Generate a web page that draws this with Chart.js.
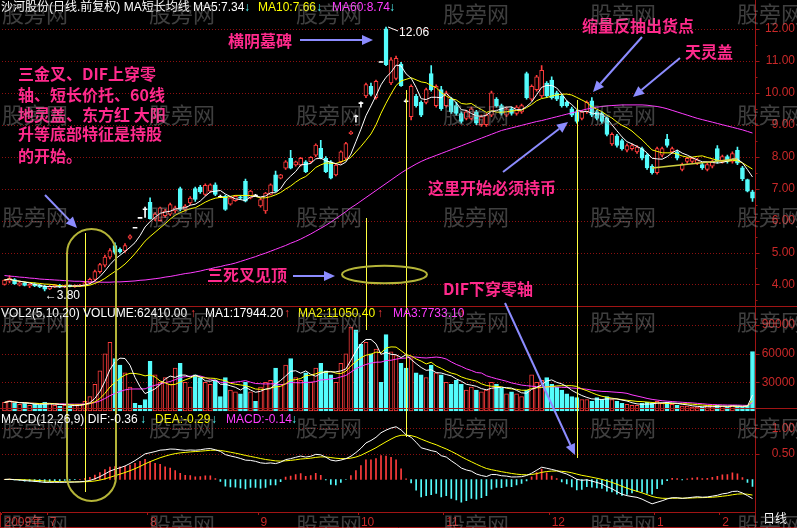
<!DOCTYPE html>
<html><head><meta charset="utf-8">
<script src="https://cdn.jsdelivr.net/npm/chart.js@4/dist/chart.umd.min.js"></script>
<style>html,body{margin:0;padding:0;background:#000;}canvas{display:block;}</style>
</head><body>
<canvas id="c" width="797" height="528"></canvas>
<script>
// ---- data: [open, high, low, close] per trading day ----
const ohlc = [
[4.00,4.15,3.98,4.14],[4.10,4.28,4.05,4.20],[4.15,4.18,4.00,4.02],[3.98,4.10,3.95,4.05],[4.05,4.08,3.95,3.97],
[3.95,4.02,3.90,4.00],[4.02,4.05,3.93,3.95],[3.98,4.00,3.90,3.92],[3.95,3.97,3.80,3.85],[3.86,3.98,3.84,3.95],
[3.92,4.00,3.90,3.97],[3.98,4.00,3.90,3.93],[3.92,3.98,3.90,3.96],[3.97,3.99,3.92,3.94],[3.93,3.99,3.91,3.97],
[3.95,4.00,3.93,3.98],[3.98,4.08,3.96,4.06],[4.05,4.20,4.02,4.16],[4.16,4.45,4.12,4.40],[4.40,4.66,4.35,4.62],
[4.60,4.92,4.55,4.86],[4.85,5.12,4.80,5.06],[5.22,5.30,4.95,5.00],[5.10,5.15,4.98,5.02],[5.05,5.28,5.00,5.22],
[5.45,5.55,5.42,5.52],[5.79,5.79,5.79,5.79],[6.10,6.10,6.10,6.10],[6.37,6.42,6.10,6.37],[6.57,6.71,6.04,6.06],
[6.05,6.25,6.00,6.20],[6.00,6.42,5.98,6.40],[6.15,6.35,6.10,6.30],[6.20,6.55,6.15,6.50],[6.30,6.45,6.25,6.40],
[7.00,7.05,6.30,6.35],[6.35,6.50,6.30,6.45],[6.55,6.75,6.50,6.70],[7.00,7.05,6.60,6.66],[7.05,7.10,6.85,6.90],
[6.82,7.15,6.78,7.10],[6.92,7.15,6.88,7.12],[7.12,7.18,6.78,6.82],[6.76,6.80,6.72,6.76],[6.76,6.80,6.32,6.35],
[6.51,6.75,6.48,6.71],[6.62,6.78,6.60,6.76],[6.74,6.78,6.66,6.70],[7.23,7.30,6.58,6.61],[6.71,6.95,6.68,6.92],
[6.80,6.82,6.78,6.80],[6.46,6.70,6.42,6.66],[6.30,6.88,6.22,6.86],[6.82,7.15,6.80,7.12],[7.43,7.55,6.90,6.92],
[7.33,7.45,7.30,7.43],[7.64,7.88,7.60,7.84],[7.95,8.20,7.62,7.64],[7.74,7.86,7.70,7.84],[7.74,7.98,7.70,7.95],
[7.84,7.88,7.50,7.53],[7.84,8.00,7.80,7.98],[8.05,8.40,8.00,8.36],[8.26,8.51,7.93,7.95],[7.95,8.00,7.50,7.53],
[7.84,7.88,7.30,7.33],[7.43,7.78,7.40,7.74],[7.84,8.18,7.80,8.15],[7.95,8.45,7.90,8.41],[8.72,8.80,8.70,8.77],
[9.28,9.30,9.08,9.28],[9.69,9.72,9.55,9.69],[9.90,10.30,9.85,10.26],[10.20,10.30,9.90,9.95],[9.85,10.40,9.80,10.36],
[10.98,10.98,10.98,10.98],[12.00,12.06,10.85,10.88],[10.31,11.10,10.25,11.03],[10.45,11.15,10.40,11.08],[10.90,10.95,10.20,10.22],
[9.75,9.80,9.70,9.75],[9.25,10.25,9.15,10.20],[9.90,9.95,9.55,9.60],[9.70,9.75,9.25,9.30],[9.70,10.15,9.65,10.10],
[10.60,10.85,10.05,10.10],[9.60,10.25,9.55,10.20],[10.10,10.20,9.45,9.50],[9.60,10.05,9.55,10.00],[9.80,9.85,9.35,9.40],
[9.60,9.70,9.30,9.35],[9.35,9.40,9.05,9.10],[9.20,9.45,9.15,9.40],[9.20,9.55,9.15,9.50],[9.40,9.45,9.00,9.05],
[9.00,9.30,8.95,9.25],[9.00,9.35,8.95,9.30],[9.30,10.05,9.25,10.00],[9.80,9.85,9.55,9.60],[9.60,9.65,9.30,9.35],
[9.30,9.55,9.25,9.50],[9.50,9.55,9.30,9.35],[9.35,9.60,9.30,9.55],[9.40,9.65,9.35,9.60],[10.60,10.65,9.80,9.85],
[9.80,10.25,9.75,10.20],[10.10,10.55,10.05,10.50],[9.90,10.85,9.85,10.70],[10.30,10.35,9.85,9.90],[10.40,10.50,9.80,9.85],
[10.00,10.05,9.75,9.80],[9.90,9.95,9.55,9.60],[9.70,9.75,9.55,9.60],[9.50,9.55,9.25,9.30],[9.40,9.45,9.05,9.10],
[9.20,9.45,9.15,9.40],[9.40,9.75,9.35,9.70],[9.75,9.85,9.25,9.30],[9.40,9.45,9.15,9.20],[9.35,9.40,9.05,9.10],
[9.20,9.25,8.65,8.70],[8.40,8.75,8.35,8.70],[8.65,8.70,8.30,8.35],[8.50,8.55,8.20,8.25],[8.20,8.40,8.15,8.35],
[8.25,8.40,8.20,8.35],[8.15,8.35,8.10,8.30],[8.25,8.30,7.90,7.95],[8.05,8.10,7.60,7.65],[7.70,7.75,7.45,7.50],
[7.50,8.30,7.45,8.25],[8.05,8.30,8.00,8.25],[8.55,8.70,8.30,8.35],[8.15,8.30,8.10,8.25],[8.15,8.20,7.90,7.95],
[7.60,7.80,7.55,7.75],[7.85,7.98,7.80,7.95],[7.85,7.98,7.80,7.95],[7.80,7.95,7.75,7.90],[7.75,7.80,7.60,7.65],
[7.60,7.80,7.55,7.75],[7.70,7.90,7.65,7.85],[8.25,8.35,7.80,7.85],[7.85,8.05,7.80,8.00],[8.00,8.05,7.80,7.85],
[7.85,8.15,7.80,8.10],[8.20,8.30,7.75,7.80],[7.65,7.70,7.25,7.30],[7.28,7.30,6.90,6.92],[6.90,6.95,6.60,6.70]
];
const opens  = ohlc.map(r => r[0]);
const highs  = ohlc.map(r => r[1]);
const lows   = ohlc.map(r => r[2]);
const closes = ohlc.map(r => r[3]);

const volumes = [
9000,11000,8000,7000,8000,6000,7000,6000,9000,8000,6000,5000,6000,5000,6000,7000,10000,
15000,28000,42000,60000,72000,55000,48000,40000,25000,8000,6000,12000,
52000,38000,30000,35000,28000,45000,50000,30000,25000,38000,35000,30000,
28000,32000,15000,35000,22000,20000,18000,30000,20000,10000,25000,30000,32000,45000,28000,
48000,55000,35000,32000,40000,30000,45000,50000,42000,38000,30000,50000,60000,
88000,85000,70000,72000,60000,65000,30000,80000,62000,58000,50000,
45000,55000,40000,38000,35000,48000,40000,38000,30000,28000,32000,28000,22000,25000,22000,20000,22000,30000,28000,24000,18000,
20000,18000,15000,22000,38000,30000,32000,35000,28000,25000,22000,18000,15000,14000,12000,12000,10000,14000,12000,15000,
12000,10000,8000,7000,6000,6000,8000,9000,8000,10000,8000,9000,7000,6000,5000,5000,4000,4000,4000,5000,5000,6000,5000,4000,6000,5000,4000,6000,62410
];

// MA60 (needs history before the window)
const ma60 = [
4.28,4.26,4.25,4.23,4.22,4.20,4.19,4.17,4.16,4.15,4.14,4.13,4.12,4.11,4.10,4.10,4.09,4.08,4.08,4.07,
4.07,4.07,4.08,4.08,4.09,4.10,4.11,4.13,4.14,4.16,4.18,4.20,4.23,4.25,4.28,4.31,4.34,4.36,4.39,4.42,
4.46,4.49,4.53,4.56,4.60,4.63,4.67,4.72,4.77,4.82,4.87,4.93,4.98,5.04,5.10,5.16,5.22,5.29,5.35,5.42,
5.50,5.58,5.67,5.76,5.85,5.95,6.06,6.17,6.28,6.40,6.50,6.61,6.72,6.83,6.94,7.05,7.16,7.27,7.38,7.49,
7.59,7.68,7.77,7.85,7.92,7.98,8.04,8.10,8.16,8.22,8.28,8.34,8.40,8.46,8.52,8.58,8.64,8.70,8.76,8.82,
8.86,8.90,8.94,8.98,9.02,9.06,9.10,9.13,9.17,9.21,9.25,9.29,9.33,9.37,9.41,9.45,9.49,9.52,9.55,9.57,
9.59,9.60,9.61,9.62,9.62,9.62,9.62,9.62,9.61,9.59,9.57,9.54,9.50,9.45,9.40,9.35,9.30,9.25,9.20,9.16,
9.12,9.08,9.04,9.00,8.96,8.92,8.88,8.84,8.79,8.74
];

const categories = closes.map((_, i) => 'D' + (i + 1));
const monthTickIdx    = [0, 9, 29, 51, 71, 88, 109, 130, 143];
const monthTickLabels = ['2009年', '7', '8', '9', '10', '11', '12', '1', '2'];
const priceTicks = [4, 5, 6, 7, 8, 9, 10, 11, 12];
const volTicks   = [30000, 60000, 90000];
const macdTicks  = [0.5, 1.0];

// ---- indicators computed from the data ----
function sma(arr, n) {
  return arr.map((_, i) => { const s = Math.max(0, i - n + 1); let t = 0; for (let k = s; k <= i; k++) t += arr[k]; return t / (i - s + 1); });
}
function ema(arr, n) {
  const a = 2 / (n + 1), out = [];
  arr.forEach((v, i) => out.push(i ? out[i - 1] + a * (v - out[i - 1]) : v));
  return out;
}
const ma5 = sma(closes, 5), ma10 = sma(closes, 10);
const vma1 = sma(volumes, 5), vma2 = sma(volumes, 10), vma3 = sma(volumes, 20);
const e12 = ema(closes, 12), e26 = ema(closes, 26);
const dif = e12.map((v, i) => v - e26[i]);
const dea = ema(dif, 9);
const macd = dif.map((v, i) => 2 * (v - dea[i]));

// ---- styling ----
const RED = '#ff3c3c', CYAN = '#54fcfc', WHITE = '#ffffff', YELLOW = '#ffff00', MAGENTA = '#ff3cff';
const AXIS_RED = '#a01414', GRID_RED = '#8c1010', LABEL_RED = '#c82828', PINK = '#ff2a8c', ARROW = '#8c8cff', OLIVE = '#b4b438';
const LATIN = '"Liberation Sans", "Noto Sans CJK SC", sans-serif';

// pixel layout of the three panels (top=0, bottom=512)
const PLOT_H = 512;
const P_Y12 = 22, P_UNIT = 32.4;
const P_MAX = 12 + P_Y12 / P_UNIT, P_MIN = P_MAX - PLOT_H / P_UNIT;
const V_ZERO = 409.5, V_PER = 29 / 30000;
const V_MAX = V_ZERO / V_PER, V_MIN = -(PLOT_H - V_ZERO) / V_PER;
const M_ZERO = 479, M_UNIT = 52;
const M_MAX = M_ZERO / M_UNIT, M_MIN = -(PLOT_H - M_ZERO) / M_UNIT;

const up = i => closes[i] > opens[i];
const flat = i => closes[i] === opens[i];
const cCol = i => flat(i) ? WHITE : (up(i) ? RED : CYAN);

const bgPlugin = {
  id: 'bg',
  beforeDraw(chart) { const c = chart.ctx; c.save(); c.fillStyle = '#000'; c.fillRect(0, 0, chart.width, chart.height); c.restore(); },
  beforeDatasetsDraw(chart) {
    const c = chart.ctx, a = chart.chartArea, s = chart.scales;
    c.save();
    c.strokeStyle = GRID_RED; c.lineWidth = 1; c.setLineDash([1, 2]);
    const hl = (y) => { y = Math.round(y) + 0.5; c.beginPath(); c.moveTo(a.left, y); c.lineTo(a.right, y); c.stroke(); };
    priceTicks.forEach(v => hl(s.yP.getPixelForValue(v)));
    volTicks.forEach(v => hl(s.yV.getPixelForValue(v)));
    macdTicks.forEach(v => hl(s.yM.getPixelForValue(v)));
    c.restore();
  },
  afterDatasetsDraw(chart) {
    const c = chart.ctx, a = chart.chartArea, s = chart.scales;
    const X = i => s.x.getPixelForValue(i);
    c.save();
    // panel frame
    c.strokeStyle = AXIS_RED; c.lineWidth = 1; c.setLineDash([]);
    const ax = Math.round(a.right) + 0.5;
    c.beginPath(); c.moveTo(ax, 0); c.lineTo(ax, 528); c.stroke();
    [306.5, 408.5, 527.5].forEach(y => { c.beginPath(); c.moveTo(0, y); c.lineTo(797, y); c.stroke(); });
    c.beginPath(); c.moveTo(0.5, 512); c.lineTo(0.5, 528); c.stroke();
    // axis tick marks
    const tick = (y, len) => { y = Math.round(y) + 0.5; c.beginPath(); c.moveTo(ax, y); c.lineTo(ax + len, y); c.stroke(); };
    priceTicks.forEach(v => { tick(s.yP.getPixelForValue(v), 4); tick(s.yP.getPixelForValue(v - 0.5), 2); });
    volTicks.forEach(v => tick(s.yV.getPixelForValue(v), 4));
    macdTicks.forEach(v => tick(s.yM.getPixelForValue(v), 4));
    // volume and MACD axis labels (price labels come from the yP axis)
    c.fillStyle = LABEL_RED; c.font = '12px ' + LATIN; c.textAlign = 'right'; c.textBaseline = 'middle';
    volTicks.forEach(v => c.fillText(String(v), 795, s.yV.getPixelForValue(v)));
    macdTicks.forEach(v => c.fillText(v.toFixed(2), 795, s.yM.getPixelForValue(v)));
    c.textAlign = 'left';

    // vertical yellow marker lines
    c.strokeStyle = '#ffff40'; c.lineWidth = 1;
    [[16, 233, 492], [72, 218, 330], [80, 90, 437], [114, 100, 458]].forEach(([i, y1, y2]) => {
      const x = Math.round(X(i)) + 0.5; c.beginPath(); c.moveTo(x, y1); c.lineTo(x, y2); c.stroke();
    });
    // support line
    c.strokeStyle = '#d0d040'; c.lineWidth = 1.5;
    c.beginPath(); c.moveTo(X(129), 168); c.lineTo(X(146), 159); c.stroke();

    // capsule and ellipse
    c.strokeStyle = OLIVE; c.lineWidth = 2;
    c.beginPath(); c.roundRect(67, 229, 49, 272, 24.5); c.stroke();
    c.beginPath(); c.ellipse(384.5, 274.5, 42.5, 8.7, 0, 0, Math.PI * 2); c.stroke();

    // headers
    c.textBaseline = 'middle'; c.font = '12px ' + LATIN;
    const segs = (y, list) => list.forEach(([t, col, x]) => { c.fillStyle = col; c.fillText(t, x, y); });
    segs(8, [['沙河股份(日线.前复权) MA短长均线 MA5:7.34', WHITE, 1], ['↓', CYAN, 244], ['MA10:7.66', YELLOW, 258], ['↓', CYAN, 316], ['MA60:8.74', MAGENTA, 332], ['↓', CYAN, 389]]);
    segs(314, [['VOL2(5,10,20) VOLUME:62410.00', WHITE, 1], ['↑', RED, 190], ['MA1:17944.20', WHITE, 205], ['↑', RED, 284], ['MA2:11050.40', YELLOW, 298], ['↑', RED, 377], ['MA3:7733.10', MAGENTA, 393], ['↑', RED, 459]]);
    segs(420, [['MACD(12,26,9) DIF:-0.36', WHITE, 1], ['↓', CYAN, 140], ['DEA:-0.29', YELLOW, 155], ['↓', CYAN, 211], ['MACD:-0.14', MAGENTA, 226], ['↓', CYAN, 291]]);
    c.fillStyle = WHITE; c.fillText('日线', 763, 520);
    // high / low labels
    const hiIdx = highs.indexOf(Math.max(...highs)), loIdx = lows.indexOf(Math.min(...lows));
    c.strokeStyle = WHITE; c.lineWidth = 1;
    const hx = X(hiIdx), hy = s.yP.getPixelForValue(highs[hiIdx]);
    c.beginPath(); c.moveTo(hx + 2, hy); c.lineTo(hx + 12, hy + 4); c.stroke();
    c.fillText(highs[hiIdx].toFixed(2), hx + 13, hy + 6);
    const lx = X(loIdx), ly = s.yP.getPixelForValue(lows[loIdx]);
    c.fillText('←' + lows[loIdx].toFixed(2), lx, ly + 5);

    // pink annotations
    c.fillStyle = PINK; c.font = 'bold 16px "Noto Sans CJK SC", sans-serif';
    [['三金叉、DIF上穿零', 18, 74], ['轴、短长价托、60线', 18, 95], ['地灵盖、东方红 大阳', 18, 115], ['升等底部特征是持股', 18, 134], ['的开始。', 18, 156],
     ['横阴墓碑', 228, 41], ['缩量反抽出货点', 582, 26], ['天灵盖', 685, 52], ['这里开始必须持币', 428, 188], ['三死叉见顶', 207, 275], ['DIF下穿零轴', 443, 289]]
      .forEach(([t, x, y]) => c.fillText(t, x, y));
    // arrows
    c.strokeStyle = ARROW; c.fillStyle = ARROW; c.lineWidth = 2;
    [[45, 195, 77, 228], [300, 40, 373, 40], [642, 37, 593, 92], [680, 58, 633, 97], [503, 172, 568, 122], [293, 276, 335, 276], [505, 303, 575, 455]]
      .forEach(([x1, y1, x2, y2]) => {
        const ang = Math.atan2(y2 - y1, x2 - x1), L = 11, W = 5;
        const bx = x2 - L * Math.cos(ang), by = y2 - L * Math.sin(ang);
        c.beginPath(); c.moveTo(x1, y1); c.lineTo(bx, by); c.stroke();
        c.beginPath(); c.moveTo(x2, y2);
        c.lineTo(bx + W * Math.sin(ang), by - W * Math.cos(ang));
        c.lineTo(bx - W * Math.sin(ang), by + W * Math.cos(ang));
        c.closePath(); c.fill();
      });
    c.restore();
  },
  afterDraw(chart) {
    const c = chart.ctx;
    c.save();
    c.fillStyle = 'rgba(150,150,150,0.42)'; c.font = '22px "Noto Sans CJK SC", sans-serif'; c.textBaseline = 'middle';
    [14, 115, 217, 322, 428, 525].forEach(y => [2, 149, 296, 443, 590, 737].forEach(x => c.fillText('股旁网', x, y)));
    c.restore();
  }
};

const hiddenAxis = (min, max) => ({ position: 'right', display: false, min, max });

new Chart(document.getElementById('c'), {
  type: 'bar',
  data: {
    labels: categories,
    datasets: [
      { type: 'line', data: ma5, yAxisID: 'yP', borderColor: WHITE, borderWidth: 1, pointRadius: 0, order: 1 },
      { type: 'line', data: ma10, yAxisID: 'yP', borderColor: YELLOW, borderWidth: 1, pointRadius: 0, order: 1 },
      { type: 'line', data: ma60, yAxisID: 'yP', borderColor: MAGENTA, borderWidth: 1, pointRadius: 0, order: 1 },
      { data: lows.map((l, i) => [l, highs[i]]), yAxisID: 'yP', grouped: false, barThickness: 1,
        backgroundColor: c => cCol(c.dataIndex), borderWidth: 0, order: 6 },
      { data: opens.map((o, i) => [o, closes[i]]), yAxisID: 'yP', grouped: false, barThickness: 4, minBarLength: 1,
        backgroundColor: c => up(c.dataIndex) ? '#000' : cCol(c.dataIndex),
        borderColor: c => cCol(c.dataIndex), borderWidth: c => flat(c.dataIndex) ? 0 : 1, borderSkipped: false, order: 5 },
      { data: volumes, yAxisID: 'yV', grouped: false, barThickness: 4,
        backgroundColor: c => up(c.dataIndex) ? '#000' : CYAN,
        borderColor: c => up(c.dataIndex) ? RED : CYAN, borderWidth: 1, borderSkipped: false, order: 5 },
      { type: 'line', data: vma1, yAxisID: 'yV', borderColor: WHITE, borderWidth: 1, pointRadius: 0, order: 1 },
      { type: 'line', data: vma2, yAxisID: 'yV', borderColor: YELLOW, borderWidth: 1, pointRadius: 0, order: 1 },
      { type: 'line', data: vma3, yAxisID: 'yV', borderColor: MAGENTA, borderWidth: 1, pointRadius: 0, order: 1 },
      { data: macd, yAxisID: 'yM', grouped: false, barThickness: 1,
        backgroundColor: c => macd[c.dataIndex] >= 0 ? RED : CYAN, borderWidth: 0, order: 5 },
      { type: 'line', data: dif, yAxisID: 'yM', borderColor: WHITE, borderWidth: 1, pointRadius: 0, order: 1 },
      { type: 'line', data: dea, yAxisID: 'yM', borderColor: YELLOW, borderWidth: 1, pointRadius: 0, order: 1 }
    ]
  },
  options: {
    responsive: false, animation: false, devicePixelRatio: 1,
    layout: { padding: { left: 2, right: 2, top: 0, bottom: 0 } },
    plugins: { legend: { display: false }, tooltip: { enabled: false } },
    scales: {
      x: {
        type: 'category', offset: true,
        grid: { display: true, drawOnChartArea: false, drawTicks: true, tickLength: 3, offset: true,
                color: c => monthTickIdx.includes(c.index) ? AXIS_RED : 'rgba(0,0,0,0)' },
        border: { display: true, color: AXIS_RED },
        ticks: { autoSkip: false, maxRotation: 0, minRotation: 0, align: 'start', padding: 0, color: LABEL_RED,
                 font: { family: LATIN, size: 12 },
                 callback: (v, i) => { const k = monthTickIdx.indexOf(i); return k >= 0 ? monthTickLabels[k] : ''; } },
        afterFit: s => { s.height = 16; }
      },
      yP: {
        position: 'right', min: P_MIN, max: P_MAX,
        afterBuildTicks: s => { s.ticks = priceTicks.map(v => ({ value: v })); },
        afterFit: s => { s.width = 40; },
        grid: { display: false, drawTicks: false },
        border: { display: false },
        ticks: { color: LABEL_RED, font: { family: LATIN, size: 12 }, crossAlign: 'far', padding: 0, callback: v => Number(v).toFixed(2) }
      },
      yV: hiddenAxis(V_MIN, V_MAX),
      yM: hiddenAxis(M_MIN, M_MAX)
    }
  },
  plugins: [bgPlugin]
});
</script>
</body></html>
